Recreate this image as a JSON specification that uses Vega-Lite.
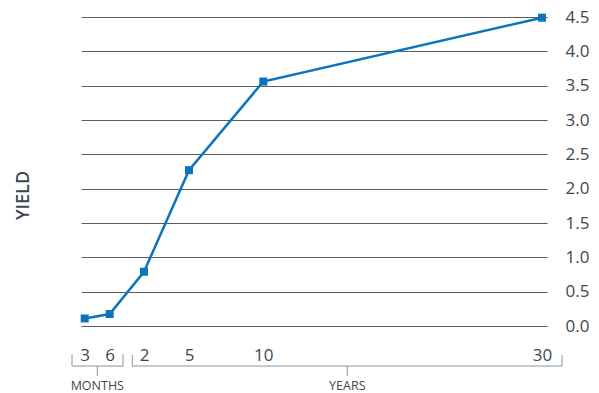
{
  "$schema": "https://vega.github.io/schema/vega-lite/v6.json",
  "width": 466,
  "height": 309,
  "autosize": "none",
  "padding": {"left": 81, "top": 17, "right": 52, "bottom": 67},
  "background": "#ffffff",
  "config": {"view": {"stroke": null}, "font": "Open Sans"},
  "resolve": {"axis": {"y": "independent"}},
  "layer": [
    {
      "data": {"values": [
        {"maturity": "3 months", "t": 0.25, "yield": 0.11},
        {"maturity": "6 months", "t": 0.5, "yield": 0.175},
        {"maturity": "2 years", "t": 2, "yield": 0.79},
        {"maturity": "5 years", "t": 5, "yield": 2.27},
        {"maturity": "10 years", "t": 10, "yield": 3.56},
        {"maturity": "30 years", "t": 30, "yield": 4.49}
      ]},
      "mark": {"type": "line", "color": "#0a74bd", "strokeWidth": 2.5,
        "point": {"shape": "square", "filled": true, "size": 64, "color": "#0a74bd", "opacity": 1}},
      "encoding": {
        "x": {"field": "t", "type": "quantitative",
          "scale": {"domain": [0.213, 0.25, 0.5, 2, 5, 10, 30, 30.359], "range": [0, 3.7, 28.7, 63, 108, 182.3, 461, 466], "nice": false, "zero": false},
          "axis": {"values": [0.25, 0.5, 2, 5, 10, 30], "labelExpr": "datum.value == 0.25 ? '3' : datum.value == 0.5 ? '6' : datum.label",
            "title": null, "domain": false, "ticks": false, "grid": false, "labelPadding": 21,
            "labelFontSize": 17, "labelColor": "#3d4752", "labelFlush": false, "labelOverlap": false}},
        "y": {"field": "yield", "type": "quantitative",
          "scale": {"domain": [0, 4.5], "nice": false, "zero": false},
          "axis": {"orient": "right", "values": [0, 0.5, 1, 1.5, 2, 2.5, 3, 3.5, 4, 4.5], "format": ".1f",
            "title": null, "domain": false, "ticks": false, "grid": true, "gridColor": "#535d67", "gridWidth": 1,
            "labelPadding": 18, "labelFontSize": 17, "labelColor": "#3d4752", "labelFlush": false, "labelOverlap": false}}
      }
    },
    {
      "data": {"values": [
        {"group": "months", "x": 0.123, "x2": 0.123, "y": -0.41, "y2": -0.583},
        {"group": "months", "x": 0.123, "x2": 1.082, "y": -0.583, "y2": -0.583},
        {"group": "months", "x": 1.082, "x2": 1.082, "y": -0.41, "y2": -0.583},
        {"group": "months", "x": 0.376, "x2": 0.376, "y": -0.583, "y2": -0.728},
        {"group": "years", "x": 1.488, "x2": 1.488, "y": -0.42, "y2": -0.583},
        {"group": "years", "x": 1.488, "x2": 31.435, "y": -0.583, "y2": -0.583},
        {"group": "years", "x": 31.435, "x2": 31.435, "y": -0.42, "y2": -0.583},
        {"group": "years", "x": 16.03, "x2": 16.03, "y": -0.583, "y2": -0.728}
      ]},
      "mark": {"type": "rule", "color": "#8c939a", "strokeWidth": 1},
      "encoding": {
        "x": {"field": "x", "type": "quantitative",
          "scale": {"domain": [0.213, 0.25, 0.5, 2, 5, 10, 30, 30.359], "range": [0, 3.7, 28.7, 63, 108, 182.3, 461, 466], "nice": false, "zero": false},
          "axis": {"values": [0.25, 0.5, 2, 5, 10, 30], "labelExpr": "datum.value == 0.25 ? '3' : datum.value == 0.5 ? '6' : datum.label",
            "title": null, "domain": false, "ticks": false, "grid": false, "labelPadding": 21,
            "labelFontSize": 17, "labelColor": "#3d4752", "labelFlush": false, "labelOverlap": false}},
        "x2": {"field": "x2"},
        "y": {"field": "y", "type": "quantitative",
          "scale": {"domain": [0, 4.5], "nice": false, "zero": false},
          "axis": {"orient": "left", "title": "YIELD", "labels": false, "ticks": false, "domain": false, "grid": false,
            "titleFontSize": 18, "titleFontWeight": 600, "titleColor": "#3d4752",
            "titleX": -57.5, "titleY": 178, "titleAngle": 270, "titleAlign": "center", "titleBaseline": "middle"}},
        "y2": {"field": "y2"}
      }
    },
    {
      "data": {"values": [
        {"label": "MONTHS", "x": 0.376, "y": -0.93},
        {"label": "YEARS", "x": 16.03, "y": -0.93}
      ]},
      "mark": {"type": "text", "fontSize": 12.5, "color": "#3d4752", "align": "center", "baseline": "alphabetic"},
      "encoding": {
        "x": {"field": "x", "type": "quantitative",
          "scale": {"domain": [0.213, 0.25, 0.5, 2, 5, 10, 30, 30.359], "range": [0, 3.7, 28.7, 63, 108, 182.3, 461, 466], "nice": false, "zero": false},
          "axis": {"values": [0.25, 0.5, 2, 5, 10, 30], "labelExpr": "datum.value == 0.25 ? '3' : datum.value == 0.5 ? '6' : datum.label",
            "title": null, "domain": false, "ticks": false, "grid": false, "labelPadding": 21,
            "labelFontSize": 17, "labelColor": "#3d4752", "labelFlush": false, "labelOverlap": false}},
        "y": {"field": "y", "type": "quantitative",
          "scale": {"domain": [0, 4.5], "nice": false, "zero": false},
          "axis": null},
        "text": {"field": "label"}
      }
    }
  ]
}
